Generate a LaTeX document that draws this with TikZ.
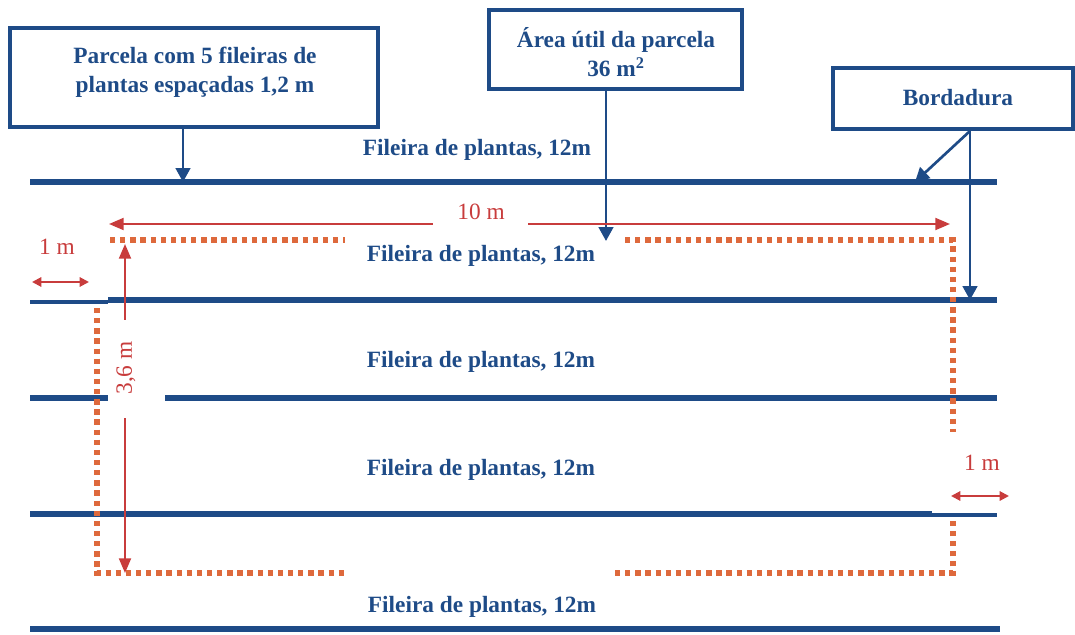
\documentclass[tikz,border=0pt]{standalone}
\usepackage{fontspec}
\setmainfont{Liberation Serif}
\usetikzlibrary{arrows.meta}
\definecolor{rowblue}{RGB}{30,75,135}
\definecolor{dimred}{RGB}{200,60,60}
\definecolor{dotorange}{RGB}{222,105,60}
\begin{document}
\begin{tikzpicture}[x=0.75pt,y=-0.75pt,
  lbl/.style={font=\fontsize{17.5}{22}\selectfont\bfseries, text=rowblue, align=center, inner sep=0pt},
  boxframe/.style={draw=rowblue, line width=3pt, inner sep=0pt},
  row/.style={draw=rowblue, line width=3.8pt},
  thinrow/.style={draw=rowblue, line width=2.6pt},
  bluearrow/.style={draw=rowblue, line width=2pt, -{Triangle[length=10.5pt,width=11pt]}},
  dim/.style={draw=dimred, line width=1.5pt},
  redtip/.tip={Triangle[length=11pt,width=9pt]},
  smalltip/.tip={Triangle[length=7pt,width=7pt]},
  dimtxt/.style={font=\fontsize{17.5}{22}\selectfont, text=dimred, inner sep=0pt},
  dots/.style={draw=dotorange, line width=4pt, dash pattern=on 4pt off 3.6pt},
]
\useasboundingbox (0,0) rectangle (1075,635);

% boxes
\node[boxframe, minimum width=276pt, minimum height=74.25pt] (box1) at (194,77.5) {};
\node[lbl] (box1txt) at (195,72) {Parcela com 5 fileiras de\\plantas espaçadas 1,2 m};
\node[boxframe, minimum width=189.75pt, minimum height=59.25pt] (box2) at (615.5,49.5) {};
\node[lbl] (box2txt) at (616,52) {Área útil da parcela\\36 m\textsuperscript{2}};
\node[boxframe, minimum width=180pt, minimum height=45.75pt] (box3) at (953,98.5) {};
\node[lbl] (box3txt) at (958,98) {Bordadura};

% rows of plants
\draw[row] (30,182) -- (997,182);
\draw[thinrow] (30,302) -- (108,302);
\draw[row] (108,300) -- (997,300);
\draw[row] (30,398) -- (108,398);
\draw[row] (165,398) -- (997,398);
\draw[row] (30,514) -- (932,514);
\draw[thinrow] (932,515) -- (997,515);
\draw[row, line width=4.5pt] (30,629) -- (1000,629);

% row labels
\node[lbl] (r1) at (477,150) {Fileira de plantas, 12m};
\node[lbl] (r2) at (481,256) {Fileira de plantas, 12m};
\node[lbl] (r3) at (481,362) {Fileira de plantas, 12m};
\node[lbl] (r4) at (481,470) {Fileira de plantas, 12m};
\node[lbl] (r5) at (482,607) {Fileira de plantas, 12m};

% useful area (dotted)
\draw[dots] (110,240) -- (345,240);
\draw[dots] (625,240) -- (953,240) -- (953,432);
\draw[dots] (97,308) -- (97,573) -- (345,573);
\draw[dots] (615,573) -- (953,573) -- (953,520);

% blue pointer arrows
\coordinate (p1) at (183,182);
\coordinate (p2) at (606,241);
\coordinate (p3) at (915,182);
\coordinate (p4) at (970,300);
\draw[bluearrow] (box1.south -| p1) -- (p1);
\draw[bluearrow] (box2.south -| p2) -- (p2);
\draw[bluearrow] (box3.south -| p4) -- (p3);
\draw[bluearrow] (box3.south -| p4) -- (p4);

% dimensions
\node[dimtxt] (t10) at (481,212) {10 m};
\coordinate (d10a) at (109,224);
\coordinate (d10b) at (950,224);
\draw[dim, {redtip}-] (d10a) -- (433,224);
\draw[dim, -{redtip}] (528,224) -- (d10b);

\node[dimtxt, rotate=90] (t36) at (126,368) {3,6 m};
\coordinate (d36a) at (125,244);
\coordinate (d36b) at (125,573);
\draw[dim, {redtip}-] (d36a) -- (125,320);
\draw[dim, -{redtip}] (125,418) -- (d36b);

\node[dimtxt] (t1l) at (57,247) {1 m};
\coordinate (d1a) at (32,282);
\coordinate (d1b) at (89,282);
\draw[dim, {smalltip}-{smalltip}] (d1a) -- (d1b);

\node[dimtxt] (t1r) at (982,463) {1 m};
\coordinate (d2a) at (951,496);
\coordinate (d2b) at (1009,496);
\draw[dim, {smalltip}-{smalltip}] (d2a) -- (d2b);
\end{tikzpicture}
\end{document}
